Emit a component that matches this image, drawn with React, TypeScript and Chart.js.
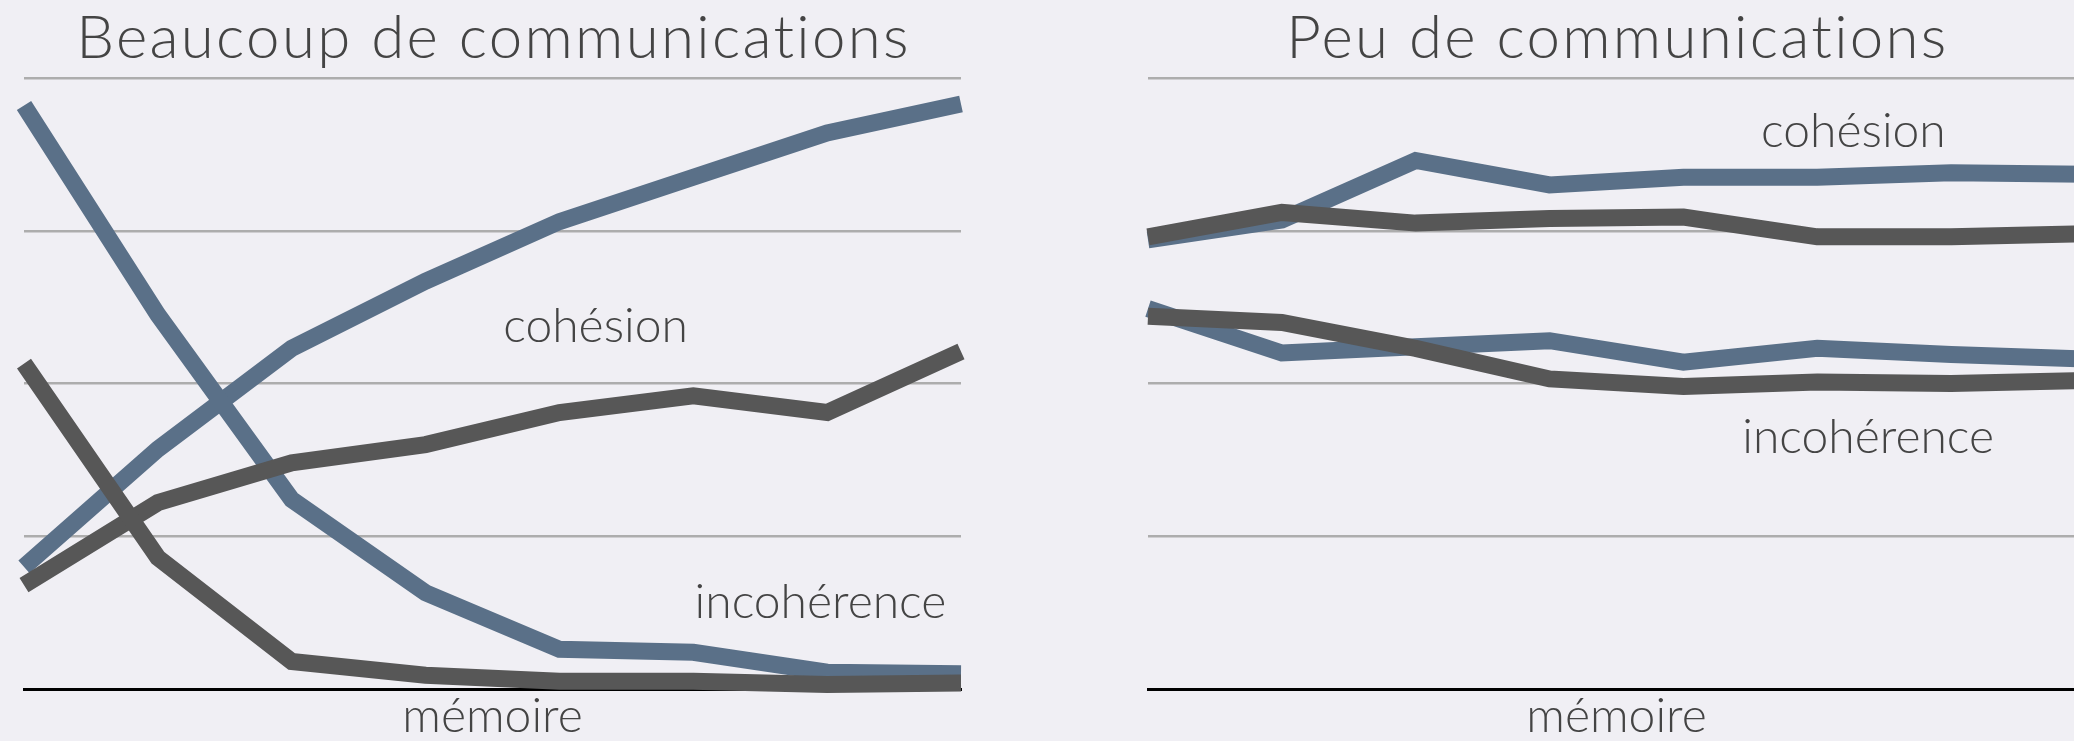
import React, { useEffect, useRef } from "react";
import { Chart, registerables } from "chart.js";

Chart.register(...registerables);

// ---- data ----
const categories = ["1", "2", "3", "4", "5", "6", "7", "8"];
const yTicks = [0, 1, 2, 3, 4];

const leftTitle = "Beaucoup de communications";
const rightTitle = "Peu de communications";
const xAxisTitle = "mémoire";

const leftCohesionBlue = [0.8, 1.57, 2.23, 2.67, 3.06, 3.35, 3.64, 3.83];
const leftCohesionDark = [0.68, 1.22, 1.48, 1.6, 1.81, 1.92, 1.81, 2.21];
const leftIncoherenceBlue = [3.82, 2.45, 1.24, 0.63, 0.26, 0.24, 0.11, 0.1];
const leftIncoherenceDark = [2.13, 0.86, 0.18, 0.09, 0.05, 0.05, 0.03, 0.04];

const rightCohesionBlue = [2.94, 3.07, 3.46, 3.3, 3.35, 3.35, 3.38, 3.37];
const rightCohesionDark = [2.96, 3.12, 3.05, 3.08, 3.09, 2.96, 2.96, 2.98];
const rightIncoherenceBlue = [2.49, 2.2, 2.24, 2.28, 2.14, 2.23, 2.19, 2.16];
const rightIncoherenceDark = [2.44, 2.4, 2.23, 2.03, 1.98, 2.01, 2.0, 2.02];

const leftLabels = [
  { text: "cohésion", x: 4.27, y: 2.27 },
  { text: "incohérence", x: 5.95, y: 0.465 },
];
const rightLabels = [
  { text: "cohésion", x: 5.27, y: 3.55 },
  { text: "incohérence", x: 5.38, y: 1.545 },
];

// ---- styles ----
const BLUE = "#5a7088";
const DARK = "#575757";
const TEXT = "#444444";
const BG = "#f0eff4";
const FONT = "Lato";

const labelPlugin = {
  id: "inlineLabels",
  afterDatasetsDraw(chart: any, _args: any, opts: any) {
    const { ctx, scales } = chart;
    ctx.save();
    ctx.font = opts.font;
    ctx.fillStyle = opts.color;
    ctx.textAlign = "center";
    ctx.textBaseline = "alphabetic";
    for (const l of opts.items || []) {
      ctx.fillText(l.text, scales.x.getPixelForValue(l.x), scales.y.getPixelForValue(l.y));
    }
    ctx.restore();
  },
};

const headingPlugin = {
  id: "heading",
  afterDraw(chart: any, _args: any, opts: any) {
    const { ctx, chartArea } = chart;
    ctx.save();
    ctx.font = opts.font;
    ctx.fillStyle = opts.color;
    ctx.textAlign = "center";
    ctx.textBaseline = "alphabetic";
    if ("letterSpacing" in ctx) (ctx as any).letterSpacing = opts.letterSpacing;
    ctx.fillText(opts.text, (chartArea.left + chartArea.right) / 2 + 1, opts.baseline);
    ctx.restore();
  },
};

function makeConfig(title: string, blueC: number[], darkC: number[], blueI: number[], darkI: number[], labels: any[]) {
  const ds = (data: number[], color: string) => ({
    data,
    borderColor: color,
    backgroundColor: color,
    borderWidth: 17,
    pointRadius: 0,
    tension: 0,
    fill: false,
    clip: false as any,
  });
  return {
    type: "line" as const,
    data: {
      labels: categories,
      datasets: [ds(darkI, DARK), ds(darkC, DARK), ds(blueI, BLUE), ds(blueC, BLUE)],
    },
    options: {
      animation: false as const,
      responsive: false,
      maintainAspectRatio: false,
      events: [],
      layout: { padding: { left: 24, right: 24, top: 78, bottom: 0 } },
      plugins: {
        legend: { display: false },
        tooltip: { enabled: false },
        title: { display: false },
        heading: { text: title, font: `300 60px ${FONT}`, color: TEXT, letterSpacing: "2.3px", baseline: 58 },
        inlineLabels: { items: labels, font: `300 48px ${FONT}`, color: TEXT },
      },
      scales: {
        x: {
          type: "category" as const,
          offset: false,
          grid: { display: false, drawTicks: false },
          ticks: { display: false },
          border: { display: true, color: "#000000", width: 3 },
          title: {
            display: true,
            text: xAxisTitle,
            color: TEXT,
            font: { family: FONT, size: 48, weight: "300", lineHeight: 1 },
            padding: { top: 4, bottom: 0 },
          },
        },
        y: {
          min: yTicks[0],
          max: yTicks[yTicks.length - 1],
          afterBuildTicks: (scale: any) => {
            scale.ticks = yTicks.map((v) => ({ value: v }));
          },
          ticks: { display: false },
          grid: {
            drawTicks: false,
            lineWidth: 2.5,
            color: (c: any) => (c.tick && c.tick.value === 0 ? "rgba(0,0,0,0)" : "#adadad"),
          },
          border: { display: false },
        },
      },
    },
    plugins: [labelPlugin, headingPlugin],
  };
}

export default function App() {
  const leftRef = useRef<HTMLCanvasElement>(null);
  const rightRef = useRef<HTMLCanvasElement>(null);

  useEffect(() => {
    const c1 = new Chart(
      leftRef.current as HTMLCanvasElement,
      makeConfig(leftTitle, leftCohesionBlue, leftCohesionDark, leftIncoherenceBlue, leftIncoherenceDark, leftLabels) as any
    );
    const c2 = new Chart(
      rightRef.current as HTMLCanvasElement,
      makeConfig(rightTitle, rightCohesionBlue, rightCohesionDark, rightIncoherenceBlue, rightIncoherenceDark, rightLabels) as any
    );
    return () => {
      c1.destroy();
      c2.destroy();
    };
  }, []);

  return (
    <div
      style={{
        position: "fixed",
        left: 0,
        top: 0,
        width: 2074,
        height: 741,
        overflow: "hidden",
        background: BG,
      }}
    >
      <canvas
        ref={leftRef}
        width={985}
        height={741}
        style={{ position: "absolute", left: 0, top: 0, width: 985, height: 741 }}
      />
      <canvas
        ref={rightRef}
        width={985}
        height={741}
        style={{ position: "absolute", left: 1124, top: 0, width: 985, height: 741 }}
      />
    </div>
  );
}
